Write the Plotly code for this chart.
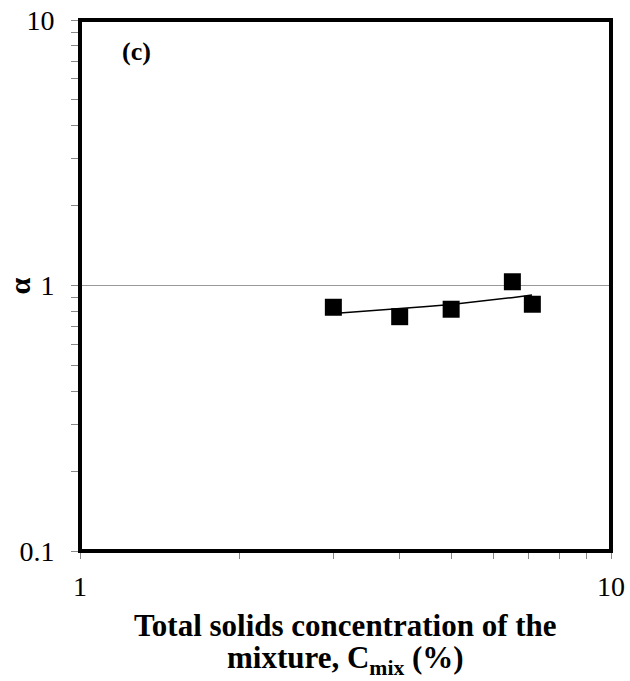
import plotly.graph_objects as go

# Data
conc = [3.0, 4.0, 5.0, 6.52, 7.11]
alpha = [0.828, 0.763, 0.814, 1.033, 0.850]

trend_x = [3.0, 3.5, 4.0, 4.5, 5.0, 5.5, 6.0, 6.5, 7.1]
trend_y = [0.785, 0.801, 0.817, 0.833, 0.849, 0.866, 0.883, 0.900, 0.921]

x_ticks = [1, 10]
x_ticklabels = ["1", "10"]
y_ticks = [0.1, 1, 10]
y_ticklabels = ["0.1", "1", "10"]

x_title_lines = ["<b>Total solids concentration of the</b>",
                 "<b>mixture, C<sub>mix</sub> (%)</b>"]
y_title = "<b>α</b>"
panel_label = "<b>(c)</b>"

FONT = "Liberation Serif, Times New Roman, serif"

fig = go.Figure()
fig.add_trace(go.Scatter(x=trend_x, y=trend_y, mode="lines",
                         line=dict(color="black", width=1.5), showlegend=False))
fig.add_trace(go.Scatter(x=conc, y=alpha, mode="markers",
                         marker=dict(symbol="square", size=17, color="black"),
                         showlegend=False))

minor_x = [2, 3, 4, 5, 6, 7, 8, 9]
minor_y = [0.2, 0.3, 0.4, 0.5, 0.6, 0.7, 0.8, 0.9, 2, 3, 4, 5, 6, 7, 8, 9]

fig.update_layout(
    width=630, height=681,
    margin=dict(l=80, r=19, t=20, b=130),
    paper_bgcolor="white", plot_bgcolor="white",
    font=dict(family=FONT, color="black"),
    xaxis=dict(
        type="log", range=[0, 1], automargin=False,
        tickmode="array", tickvals=x_ticks, ticktext=x_ticklabels,
        tickfont=dict(size=28, family=FONT, color="black"),
        ticks="outside", ticklen=7, tickcolor="#888888", tickwidth=1,
        ticklabelstandoff=3, ticklabeloverflow="allow",
        showgrid=False, zeroline=False,
        showline=True, linecolor="#888888", linewidth=1,
        minor=dict(tickvals=minor_x, ticks="outside", ticklen=7,
                   tickcolor="#888888", showgrid=False),
    ),
    yaxis=dict(
        type="log", range=[-1, 1], automargin=False,
        tickmode="array", tickvals=y_ticks, ticktext=y_ticklabels,
        tickfont=dict(size=28, family=FONT, color="black"),
        ticks="outside", ticklen=8, tickcolor="#888888", tickwidth=1,
        ticklabelstandoff=11, ticklabeloverflow="allow",
        showgrid=True, gridcolor="#999999", gridwidth=1,
        zeroline=False,
        showline=True, linecolor="#888888", linewidth=1,
        minor=dict(tickvals=minor_y, ticks="outside", ticklen=8,
                   tickcolor="#888888", showgrid=False),
    ),
    shapes=[dict(type="rect", xref="paper", yref="paper", x0=0, x1=1, y0=0, y1=1,
                 line=dict(color="black", width=4), layer="above")],
    annotations=[
        dict(text=panel_label, xref="paper", yref="paper",
             x=0.107, y=0.94, showarrow=False, xanchor="center", yanchor="middle",
             font=dict(size=26, family=FONT, color="black")),
        dict(text=y_title, xref="paper", yref="paper", textangle=-90,
             x=-0.113, y=0.5, showarrow=False, xanchor="center", yanchor="middle",
             font=dict(size=30, family=FONT, color="black")),
        dict(text=x_title_lines[0], xref="paper", yref="paper",
             x=0.5, y=-0.1394, showarrow=False, xanchor="center", yanchor="middle",
             font=dict(size=31, family=FONT, color="black")),
        dict(text=x_title_lines[1], xref="paper", yref="paper",
             x=0.5, y=-0.2053, showarrow=False, xanchor="center", yanchor="middle",
             font=dict(size=31, family=FONT, color="black")),
    ],
)

fig.write_html("out.html",
               config={"displayModeBar": False},
               post_script="document.body.style.margin='0';document.body.style.overflow='hidden';")
